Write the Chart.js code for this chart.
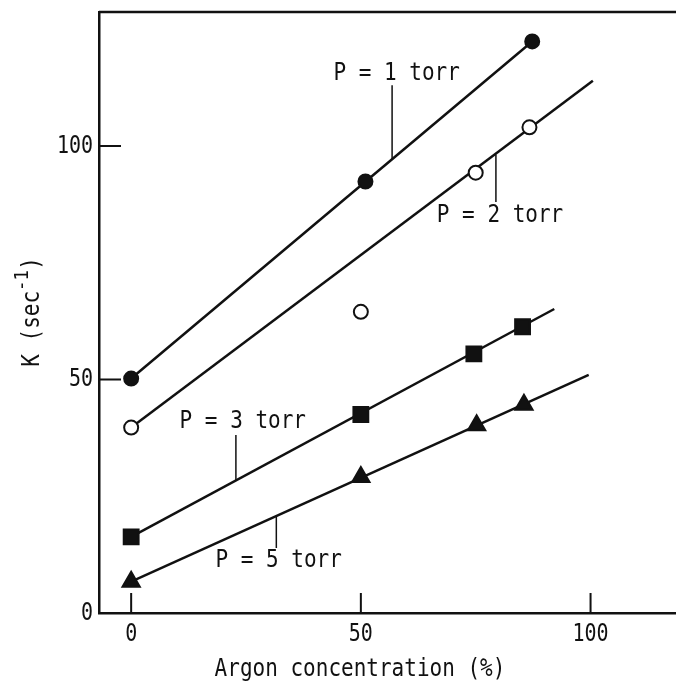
<!DOCTYPE html>
<html>
<head>
<meta charset="utf-8">
<script src="https://cdn.jsdelivr.net/npm/chart.js@4.4.1/dist/chart.umd.min.js"></script>
<style>
  html, body { margin: 0; padding: 0; background: #fff; }
  #wrap { width: 676px; height: 682px; }
</style>
</head>
<body>
<div id="wrap"><canvas id="myChart" width="676" height="682"></canvas></div>
<script>
// measured values, argon % vs K (sec^-1)
var argon1 = [0, 51, 87.3];
var k1 = [50.2, 92.4, 122.4];
var argon2 = [0, 50, 75, 86.7];
var k2 = [39.7, 64.5, 94.3, 104];
var argon3 = [0, 50, 74.6, 85.2];
var k3 = [16.3, 42.5, 55.5, 61.3];
var argon5 = [0, 50, 75.2, 85.5];
var k5 = [6.7, 29.1, 40.2, 44.6];

// drawn straight lines (ends)
var fitX1 = [0, 87.3], fitK1 = [50.2, 122.4];
var fitX2 = [0, 100.5], fitK2 = [39.7, 114];
var fitX3 = [0, 92.1], fitK3 = [16.3, 65.1];
var fitX5 = [0, 99.6], fitK5 = [6.7, 51];

var xTicks = [0, 50, 100];
var yTicks = [0, 50, 100];

var labelTexts = ['P = 1 torr', 'P = 2 torr', 'P = 3 torr', 'P = 5 torr'];
// label centre and leader line, in data units
var labelSpots = [
    {x: 57.8, y: 115.4, lx: 56.8, ly1: 113, ly2: 97.2},
    {x: 80.3, y: 85, lx: 79.4, ly1: 98.2, ly2: 88},
    {x: 24.3, y: 40.9, lx: 22.8, ly1: 38.1, ly2: 28.4},
    {x: 32.1, y: 11.1, lx: 31.6, ly1: 20.8, ly2: 13.9}
];

var FONT = '"DejaVu Sans Mono", monospace';
var INK = '#111';

function zip(xs, ys) {
    return xs.map(function (x, i) { return {x: x, y: ys[i]}; });
}

function pts(xs, ys, style, fill, r) {
    return {
        data: zip(xs, ys), showLine: false, order: 0,
        pointStyle: style, pointRadius: r, pointHoverRadius: r,
        backgroundColor: fill, borderColor: INK, pointBorderWidth: 2
    };
}

function line(xs, ys) {
    return {
        data: zip(xs, ys), showLine: true, order: 1,
        pointRadius: 0, borderColor: INK, borderWidth: 2.5, fill: false
    };
}

// typewriter-ish lettering: tall, squeezed sideways
function narrowText(ctx, text, x, y, size, sx, align) {
    ctx.save();
    ctx.translate(x, y);
    ctx.scale(sx, 1);
    ctx.font = size + 'px ' + FONT;
    ctx.textAlign = align;
    ctx.textBaseline = 'middle';
    ctx.fillText(text, 0, 0);
    ctx.restore();
}

// frame, inward ticks, tick labels, annotations and axis titles
var extras = {
    id: 'extras',
    afterDraw: function (chart) {
        var ctx = chart.ctx, a = chart.chartArea;
        var xs = chart.scales.x, ys = chart.scales.y;
        ctx.save();
        ctx.strokeStyle = INK;
        ctx.fillStyle = INK;
        ctx.lineWidth = 2.5;
        ctx.beginPath();
        ctx.moveTo(a.left, a.top);
        ctx.lineTo(chart.width, a.top);
        ctx.stroke();

        ctx.lineWidth = 2;
        ctx.beginPath();
        yTicks.forEach(function (v) {
            if (v === 0) return;
            var py = ys.getPixelForValue(v);
            ctx.moveTo(a.left, py);
            ctx.lineTo(a.left + 22, py);
        });
        xTicks.forEach(function (v) {
            var px = xs.getPixelForValue(v);
            ctx.moveTo(px, a.bottom);
            ctx.lineTo(px, a.bottom - 20);
        });
        ctx.stroke();

        yTicks.forEach(function (v) {
            narrowText(ctx, String(v), a.left - 6, ys.getPixelForValue(v), 25, 0.8, 'right');
        });
        xTicks.forEach(function (v) {
            narrowText(ctx, String(v), xs.getPixelForValue(v), a.bottom + 21, 25, 0.8, 'center');
        });

        // label leaders
        ctx.lineWidth = 1.5;
        ctx.beginPath();
        labelSpots.forEach(function (s) {
            var px = xs.getPixelForValue(s.lx);
            ctx.moveTo(px, ys.getPixelForValue(s.ly1));
            ctx.lineTo(px, ys.getPixelForValue(s.ly2));
        });
        ctx.stroke();

        labelSpots.forEach(function (s, i) {
            narrowText(ctx, labelTexts[i], xs.getPixelForValue(s.x), ys.getPixelForValue(s.y), 24, 0.875, 'center');
        });

        // x title
        narrowText(ctx, 'Argon concentration (%)', 360, 670, 24, 0.875, 'center');

        // y title with superscript
        ctx.translate(33, 312);
        ctx.rotate(-Math.PI / 2);
        var sx = 0.875;
        ctx.font = '24px ' + FONT;
        var w1 = ctx.measureText('K (sec').width * sx;
        var w3 = ctx.measureText(')').width * sx;
        ctx.font = '20px ' + FONT;
        var w2 = ctx.measureText('-1').width * sx;
        var x0 = -(w1 + w2 + w3) / 2;
        narrowText(ctx, 'K (sec', x0, 0, 24, sx, 'left');
        narrowText(ctx, '-1', x0 + w1, -10, 20, sx, 'left');
        narrowText(ctx, ')', x0 + w1 + w2, 0, 24, sx, 'left');
        ctx.restore();
    }
};

var ctx = document.getElementById('myChart').getContext('2d');
var chart = new Chart(ctx, {
    type: 'scatter',
    data: {
        datasets: [
            pts(argon1, k1, 'circle', INK, 7),
            pts(argon2, k2, 'circle', '#fff', 7),
            pts(argon3, k3, 'rect', INK, 10.5),
            pts(argon5, k5, 'triangle', INK, 10),
            line(fitX1, fitK1),
            line(fitX2, fitK2),
            line(fitX3, fitK3),
            line(fitX5, fitK5)
        ]
    },
    options: {
        responsive: false,
        animation: false,
        devicePixelRatio: 1,
        layout: {autoPadding: false, padding: {top: 12, right: 0, left: 0, bottom: 0}},
        plugins: {legend: {display: false}, tooltip: {enabled: false}},
        scales: {
            x: {
                type: 'linear', min: -7, max: 118.6,
                afterBuildTicks: function (s) { s.ticks = xTicks.map(function (v) { return {value: v}; }); },
                afterFit: function (s) { s.height = 69; s.paddingLeft = 0; s.paddingRight = 0; },
                grid: {drawOnChartArea: false, drawTicks: false},
                border: {display: true, color: INK, width: 2.5},
                ticks: {display: false}
            },
            y: {
                type: 'linear', min: 0, max: 128.7,
                afterBuildTicks: function (s) { s.ticks = yTicks.map(function (v) { return {value: v}; }); },
                afterFit: function (s) { s.width = 99; s.paddingTop = 0; s.paddingBottom = 0; },
                grid: {drawOnChartArea: false, drawTicks: false},
                border: {display: true, color: INK, width: 2.5},
                ticks: {display: false}
            }
        }
    },
    plugins: [extras]
});
</script>
</body>
</html>
